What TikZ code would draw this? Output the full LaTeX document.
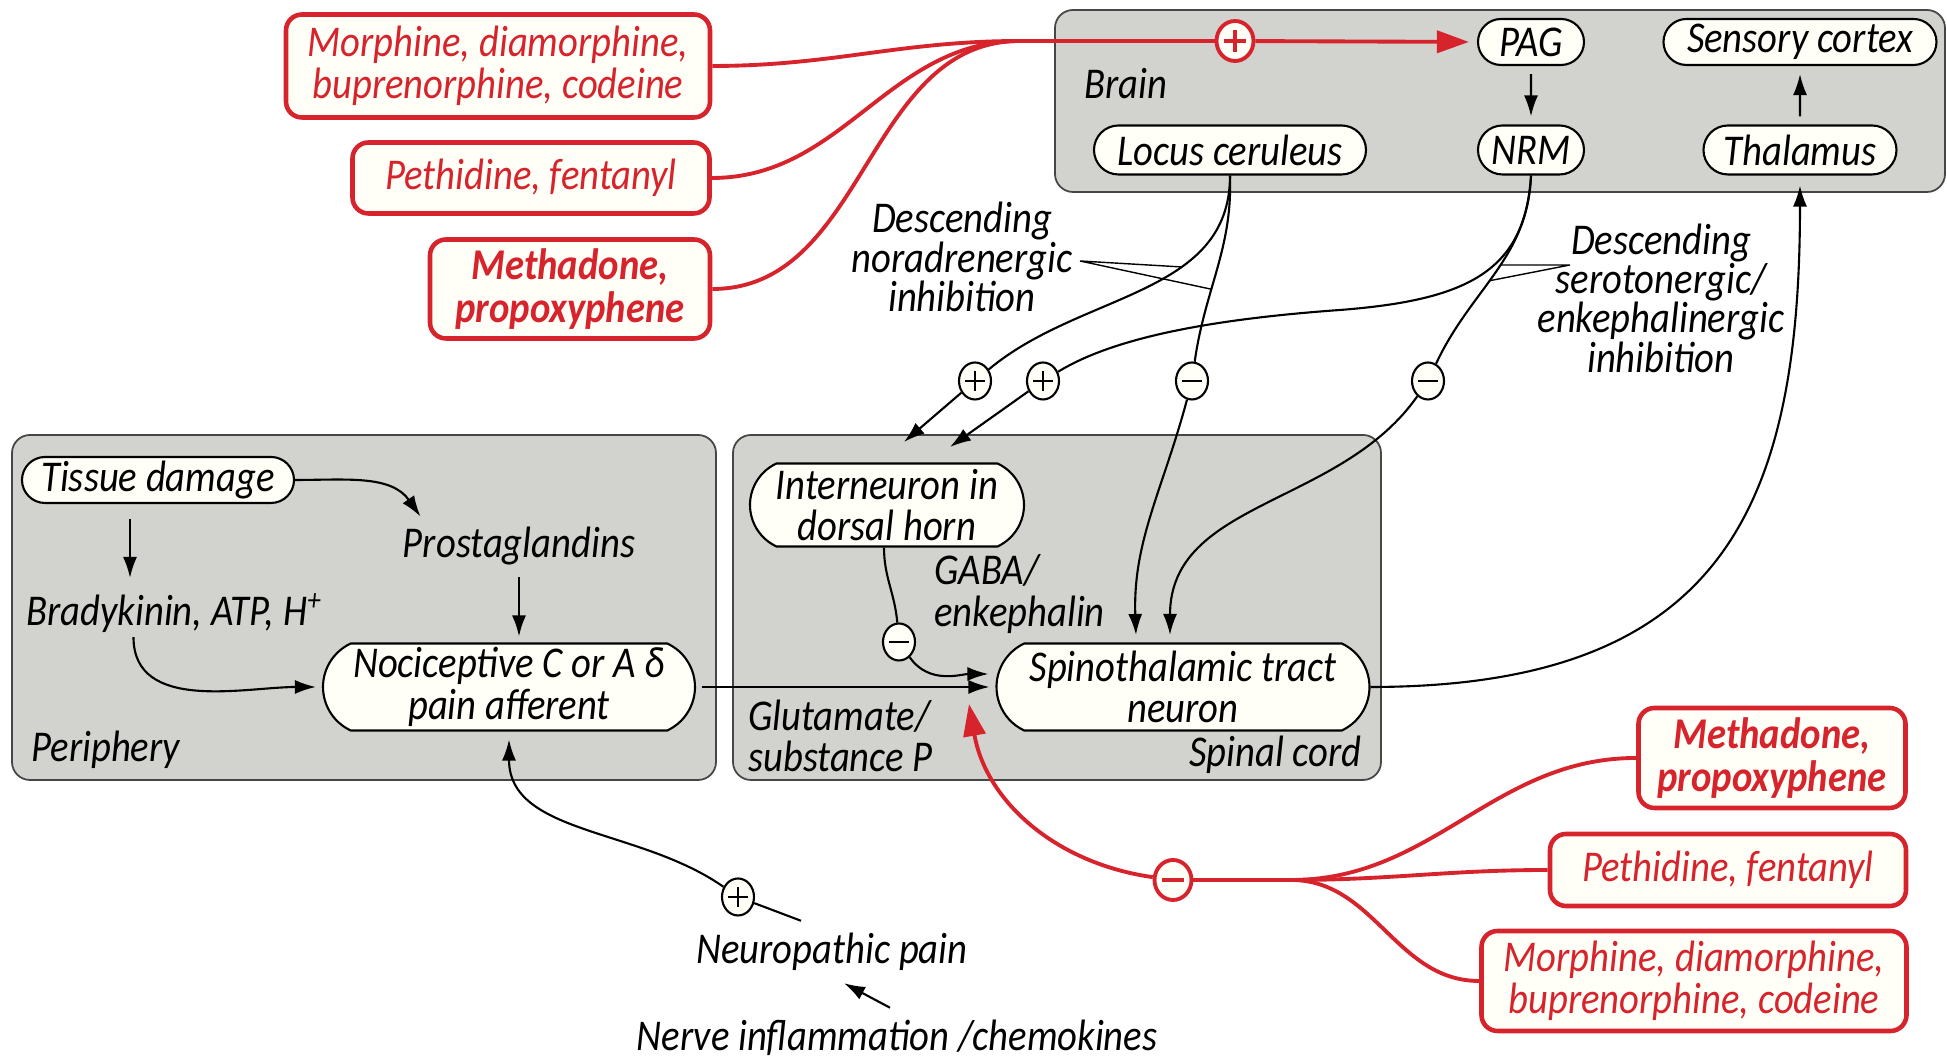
\documentclass[tikz,border=0pt]{standalone}
\usepackage{fontspec}
\setmainfont[FakeStretch=0.88]{Carlito}
\usepackage{tikz}
\usetikzlibrary{shapes.geometric, shapes.misc, arrows.meta, positioning, calc}

\definecolor{boxgray}{RGB}{210,211,206}
\definecolor{nodecream}{RGB}{255,255,247}
\definecolor{drugred}{RGB}{214,35,44}
\definecolor{edgegray}{RGB}{70,70,70}

\begin{document}
\begin{tikzpicture}[
  every node/.style={font=\fontsize{12.5}{11.8}\selectfont\itshape},
  boldtxt/.style={font=\fontsize{12.5}{12.3}\selectfont\bfseries\itshape},
  region/.style={draw=edgegray, fill=boxgray, line width=0.5pt, rounded corners=0.18cm},
  cell/.style={draw, fill=nodecream, rounded rectangle, line width=0.6pt, inner sep=0pt, align=center},
  flatcell/.style={cell, rounded rectangle arc length=130},
  drug/.style={draw=drugred, fill=nodecream, text=drugred, rounded corners=0.16cm, line width=1.3pt, inner sep=0pt, align=center},
  conn/.style={line width=0.6pt, -{Latex[length=0.21cm,width=0.14cm]}},
  redconn/.style={drugred, line width=1.1pt},
  redtip/.style={-{Triangle[length=0.32cm,width=0.22cm]}},
  signcirc/.style={draw, fill=nodecream, ellipse, minimum width=0.32cm, minimum height=0.37cm, inner sep=0pt, line width=0.6pt},
  pluscirc/.style={signcirc, path picture={\draw[line width=0.6pt] ($(path picture bounding box.center)+(-0.1,0)$) -- ++(0.2,0) ($(path picture bounding box.center)+(0,-0.1)$) -- ++(0,0.2);}},
  minuscirc/.style={signcirc, path picture={\draw[line width=0.6pt] ($(path picture bounding box.center)+(-0.1,0)$) -- ++(0.2,0);}},
  redplus/.style={signcirc, draw=drugred, line width=1.1pt, minimum width=0.37cm, minimum height=0.40cm, path picture={\draw[drugred, line width=1pt] ($(path picture bounding box.center)+(-0.11,0)$) -- ++(0.22,0) ($(path picture bounding box.center)+(0,-0.11)$) -- ++(0,0.22);}},
  redminus/.style={signcirc, draw=drugred, line width=1.1pt, minimum width=0.37cm, minimum height=0.40cm, path picture={\draw[drugred, line width=1pt] ($(path picture bounding box.center)+(-0.11,0)$) -- ++(0.22,0);}},
]
\useasboundingbox (0,0) rectangle (19.47,10.6);

% Brain
\draw[region] (10.55,8.68) rectangle (19.45,10.50);
\node[anchor=west] (brainlbl) at (10.72,9.76) {Brain};
\node[cell, minimum width=1.06cm, minimum height=0.46cm] (pag) at (15.31,10.18) {PAG};
\node[cell, minimum width=2.73cm, minimum height=0.46cm] (cortex) at (18.00,10.18) {Sensory cortex};
\node[cell, minimum width=2.72cm, minimum height=0.49cm] (locus) at (12.30,9.10) {Locus ceruleus};
\node[cell, minimum width=1.06cm, minimum height=0.49cm] (nrm) at (15.31,9.10) {NRM};
\node[cell, minimum width=1.93cm, minimum height=0.49cm] (thal) at (18.00,9.10) {Thalamus};

% Periphery
\draw[region] (0.12,2.80) rectangle (7.16,6.25);
\node[anchor=west] (perilbl) at (0.19,3.10) {Periphery};
\node[cell, minimum width=2.72cm, minimum height=0.46cm] (tissue) at (1.58,5.80) {Tissue damage};
\node (prost) at (5.19,5.14) {Prostaglandins};
\node[anchor=west] (brady) at (0.14,4.47) {Bradykinin, ATP, H\textsuperscript{+}};
\node[flatcell, minimum width=3.72cm, minimum height=0.87cm] (noci) at (5.09,3.73) {Nociceptive C or A δ\\pain afferent};

% Spinal cord
\draw[region] (7.33,2.80) rectangle (13.81,6.25);
\node[anchor=east] (spinlbl) at (13.74,3.05) {Spinal cord};
\node[flatcell, minimum width=2.74cm, minimum height=0.83cm] (inter) at (8.87,5.55) {Interneuron in\\dorsal horn};
\node[flatcell, minimum width=3.73cm, minimum height=0.87cm] (spino) at (11.83,3.73) {Spinothalamic tract\\neuron};
\node[anchor=west, align=left] (gaba) at (9.22,4.66) {GABA/\\enkephalin};
\node[anchor=west, align=left] (glut) at (7.36,3.24) {Glutamate/\\substance P};

% Drugs
\node[drug, minimum width=4.24cm, minimum height=1.03cm] (morphA) at (4.98,9.94) {Morphine, diamorphine,\\buprenorphine, codeine};
\node[drug, minimum width=3.57cm, minimum height=0.71cm] (pethA) at (5.31,8.82) {Pethidine, fentanyl};
\node[drug, boldtxt, minimum width=2.80cm, minimum height=0.99cm] (methA) at (5.70,7.71) {Methadone,\\propoxyphene};
\node[drug, boldtxt, minimum width=2.67cm, minimum height=1.00cm] (methB) at (17.72,3.02) {Methadone,\\propoxyphene};
\node[drug, minimum width=3.56cm, minimum height=0.72cm] (pethB) at (17.28,1.90) {Pethidine, fentanyl};
\node[drug, minimum width=4.25cm, minimum height=1.00cm] (morphB) at (16.94,0.79) {Morphine, diamorphine,\\buprenorphine, codeine};

% Labels
\node[align=center, font=\fontsize{12.5}{11.2}\selectfont\itshape] (noradr) at (9.62,8.03) {Descending\\noradrenergic\\inhibition};
\node[align=center, font=\fontsize{12.5}{11.2}\selectfont\itshape] (sero) at (16.61,7.62) {Descending\\serotonergic/\\enkephalinergic\\inhibition};
\node (neuro) at (8.32,1.08) {Neuropathic pain};
\node (nerve) at (8.97,0.22) {Nerve inflammation /chemokines};

% Signs
\node[redplus] (rp) at (12.35,10.19) {};
\node[pluscirc] (p1) at (9.75,6.79) {};
\node[pluscirc] (p2) at (10.43,6.79) {};
\node[minuscirc] (m1) at (11.92,6.79) {};
\node[minuscirc] (m2) at (14.28,6.79) {};
\node[minuscirc] (mgaba) at (8.99,4.18) {};
\node[pluscirc] (p3) at (7.38,1.63) {};
\node[redminus] (rm) at (11.73,1.80) {};

\coordinate (jtop) at (10.2,10.19);
\coordinate (jbot) at (12.91,1.80);
\coordinate (inA) at (9.04,6.18);
\coordinate (inB) at (9.50,6.13);
\coordinate (spA) at (11.36,4.25);
\coordinate (spB) at (11.70,4.25);
\coordinate (spR) at (9.69,3.56);

% Opioids acting on the brain
\draw[redconn] (morphA.east) to[out=0,in=180] (jtop);
\draw[redconn] (pethA.east) to[out=0,in=180] (jtop);
\draw[redconn] (methA.east) to[out=0,in=180] (jtop);
\draw[redconn] (jtop) -- (rp);
\draw[redconn, redtip, shorten >=0.08cm] (rp) -- (pag.west);

% Brain pathways
\draw[conn, shorten >=0.08cm, shorten <=0.08cm] (pag) -- (nrm);
\draw[conn, shorten >=0.08cm, shorten <=0.08cm] (thal) -- (cortex);
\draw[line width=0.6pt] (locus.south) to[out=-90,in=40] coordinate[pos=0.36] (lcA) (p1);
\draw[conn] (p1) -- (inA);
\draw[line width=0.6pt] (locus.south) to[out=-88,in=82] coordinate[pos=0.62] (lcB) (m1);
\draw[conn] (m1) to[out=-105,in=92] (spA);
\draw[line width=0.6pt] (nrm.south) .. controls (15.25,7.9) and (14.7,7.6) .. (13.4,7.5)
  .. controls (12.0,7.4) and (11.1,7.2) .. (p2);
\draw[conn] (p2) -- (inB);
\draw[line width=0.6pt] (nrm.south) to[out=-92,in=65] coordinate[pos=0.55] (nrB) (m2);
\draw[conn] (m2) to[out=-125,in=90] (spB);
\draw[conn, shorten >=0.1cm] (spino.east) .. controls (17.2,3.73) and (18.0,5.5) .. (thal.south);

% Label pointers
\coordinate (nfork) at (10.80,7.99);
\draw[line width=0.4pt] (lcA) -- (nfork) -- (lcB);
\coordinate (sfork) at (15.70,7.95);
\coordinate (nrA) at (15.01,7.95);
\draw[line width=0.4pt] (nrA) -- (sfork) -- (nrB);

% Periphery pathways
\draw[conn] ($(tissue.south)+(-0.28,-0.15)$) coordinate (tdA) -- ($(tdA |- brady.north)+(0,0.03)$);
\draw[conn] (tissue.east) to[out=0,in=125] ($(prost.north west)+(0.3,-0.02)$);
\draw[conn, shorten >=0.06cm] (prost.south) -- (prost.south |- noci.north);
\draw[conn, shorten >=0.06cm] ($(brady.south)+(-0.41,0.08)$) to[out=-90,in=180] (noci.west);
\draw[conn, shorten >=0.06cm, shorten <=0.06cm] (noci.east) -- (spino.west);
\draw[line width=0.6pt] ([xshift=-0.31cm]neuro.north) -- (p3);
\draw[conn, shorten >=0.08cm] (p3) to[out=145,in=-90] (noci.south);
\draw[conn] ([xshift=-0.07cm]nerve.north) -- ([xshift=0.12cm]neuro.south);

% Spinal cord pathways
\draw[line width=0.6pt] ([xshift=-0.03cm]inter.south) to[out=-90,in=95] (mgaba);
\draw[conn, shorten >=0.07cm] (mgaba) to[out=-55,in=180] ([yshift=0.13cm]spino.west);

% Opioids acting on the spinal cord
\draw[redconn] (methB.west) to[out=180,in=0] (jbot);
\draw[redconn] (pethB.west) to[out=180,in=0] (jbot);
\draw[redconn] (morphB.west) to[out=180,in=0] (jbot);
\draw[redconn] (jbot) -- (rm);
\draw[redconn, redtip] (rm) to[out=172,in=-80] (spR);
\end{tikzpicture}
\end{document}
